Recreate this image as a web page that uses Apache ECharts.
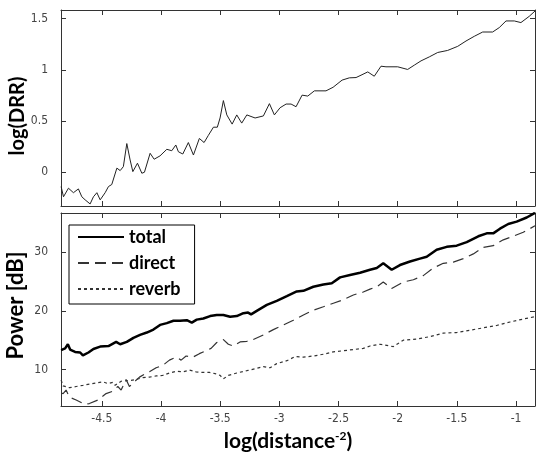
<!DOCTYPE html>
<html>
<head>
<meta charset="utf-8">
<script src="https://cdn.jsdelivr.net/npm/echarts@6/dist/echarts.min.js"></script>
<style>html,body{margin:0;padding:0;background:#fff}#c{width:536px;height:454px}</style>
</head>
<body>
<div id="c"></div>
<script>
// ---- data ----
const xTicks = [-4.5, -4, -3.5, -3, -2.5, -2, -1.5, -1];
const drrTicks = [0, 0.5, 1, 1.5];
const powTicks = [10, 20, 30];

const drrX = [-4.844,-4.824,-4.782,-4.740,-4.698,-4.669,-4.641,-4.599,-4.571,-4.542,-4.514,-4.472,-4.444,-4.416,-4.373,-4.345,-4.318,-4.289,-4.261,-4.238,-4.199,-4.162,-4.140,-4.092,-4.058,-4.008,-3.951,-3.909,-3.875,-3.853,-3.816,-3.769,-3.726,-3.676,-3.636,-3.600,-3.557,-3.524,-3.501,-3.473,-3.444,-3.399,-3.360,-3.318,-3.275,-3.205,-3.135,-3.084,-3.042,-2.994,-2.943,-2.901,-2.859,-2.808,-2.760,-2.704,-2.606,-2.546,-2.470,-2.409,-2.352,-2.310,-2.253,-2.198,-2.141,-2.099,-2.000,-1.916,-1.860,-1.803,-1.733,-1.662,-1.578,-1.493,-1.423,-1.353,-1.282,-1.198,-1.142,-1.085,-1.015,-0.959,-0.889,-0.840];
const drrY = [-0.14,-0.24,-0.156,-0.20,-0.163,-0.24,-0.27,-0.31,-0.24,-0.20,-0.27,-0.20,-0.14,-0.12,0.04,0.016,0.055,0.28,0.12,0.006,0.088,-0.01,0.0,0.185,0.127,0.16,0.224,0.21,0.266,0.20,0.178,0.29,0.168,0.33,0.29,0.36,0.44,0.44,0.53,0.70,0.56,0.47,0.56,0.48,0.56,0.53,0.55,0.67,0.56,0.63,0.666,0.666,0.64,0.753,0.744,0.795,0.795,0.83,0.90,0.922,0.925,0.948,0.98,0.938,1.036,1.03,1.03,1.004,1.046,1.088,1.127,1.17,1.19,1.23,1.282,1.328,1.37,1.37,1.413,1.478,1.478,1.462,1.523,1.575];

const totalX = [-4.844,-4.810,-4.787,-4.768,-4.726,-4.683,-4.660,-4.613,-4.571,-4.514,-4.444,-4.379,-4.345,-4.289,-4.233,-4.177,-4.120,-4.064,-4.008,-3.951,-3.895,-3.839,-3.782,-3.740,-3.698,-3.642,-3.585,-3.529,-3.473,-3.416,-3.360,-3.304,-3.264,-3.239,-3.191,-3.106,-3.022,-2.937,-2.853,-2.797,-2.713,-2.628,-2.557,-2.487,-2.403,-2.318,-2.234,-2.177,-2.122,-2.051,-1.981,-1.896,-1.812,-1.755,-1.671,-1.586,-1.502,-1.417,-1.319,-1.248,-1.193,-1.136,-1.066,-0.995,-0.910,-0.840];
const totalY = [13.3,13.6,14.3,13.4,13.0,12.9,12.4,12.9,13.5,13.9,14.0,14.7,14.3,14.7,15.4,15.9,16.3,16.8,17.6,17.9,18.3,18.3,18.4,18.0,18.5,18.7,19.1,19.3,19.3,19.0,19.1,19.6,19.7,19.4,20.0,21.0,21.7,22.5,23.3,23.4,24.1,24.5,24.7,25.7,26.1,26.5,27.0,27.3,28.1,27.0,27.8,28.4,28.9,29.2,30.4,30.9,31.1,31.7,32.7,33.2,33.2,34.0,34.8,35.2,35.9,36.7];

const directX = [-4.844,-4.827,-4.802,-4.774,-4.717,-4.647,-4.605,-4.534,-4.464,-4.407,-4.365,-4.337,-4.295,-4.267,-4.225,-4.182,-4.140,-4.098,-4.041,-3.985,-3.929,-3.872,-3.830,-3.788,-3.731,-3.676,-3.619,-3.577,-3.529,-3.473,-3.431,-3.389,-3.332,-3.275,-3.220,-3.135,-3.051,-2.966,-2.882,-2.797,-2.713,-2.628,-2.544,-2.459,-2.375,-2.291,-2.234,-2.177,-2.122,-2.051,-1.953,-1.868,-1.784,-1.699,-1.615,-1.530,-1.446,-1.361,-1.277,-1.193,-1.108,-1.024,-0.939,-0.883,-0.840];
const directY = [6.0,5.9,6.5,5.3,4.8,4.1,4.2,4.8,5.9,6.3,7.1,6.5,8.3,7.1,7.9,8.7,9.2,9.6,10.3,10.7,11.6,12.1,11.6,12.3,12.1,12.7,13.2,13.6,14.6,15.1,14.3,14.0,14.7,14.8,15.1,15.9,16.8,17.6,18.4,19.3,20.1,20.7,21.3,21.9,22.7,23.2,23.7,24.1,24.9,23.8,24.9,25.3,26.0,27.3,28.1,28.3,28.9,29.7,30.8,31.1,32.1,32.7,33.4,34.0,34.5];

const reverbX = [-4.844,-4.827,-4.774,-4.717,-4.660,-4.605,-4.548,-4.492,-4.449,-4.407,-4.388,-4.337,-4.267,-4.210,-4.154,-4.098,-4.041,-3.985,-3.929,-3.872,-3.816,-3.760,-3.704,-3.647,-3.591,-3.543,-3.501,-3.473,-3.431,-3.360,-3.275,-3.191,-3.135,-3.079,-3.022,-2.937,-2.867,-2.797,-2.713,-2.628,-2.544,-2.459,-2.375,-2.291,-2.234,-2.149,-2.037,-1.953,-1.840,-1.727,-1.615,-1.502,-1.389,-1.277,-1.164,-1.051,-0.939,-0.840];
const reverbY = [8.2,7.2,6.9,7.1,7.3,7.5,7.7,7.9,7.6,7.8,7.3,8.0,8.1,8.3,8.6,8.7,8.9,9.0,9.4,9.7,9.6,9.9,9.6,9.5,9.5,9.3,9.0,8.4,9.0,9.4,9.8,10.2,10.5,10.3,11.0,11.5,12.2,12.1,12.3,12.6,13.0,13.2,13.4,13.6,14.0,14.3,13.9,15.0,15.2,15.6,16.2,16.3,16.7,17.1,17.5,18.1,18.6,19.0];

const seriesNames = ['total', 'direct', 'reverb'];

// ---- chart ----
const pairs = (xs, ys) => xs.map((x, i) => [x, ys[i]]);
const XMIN = -4.845, XMAX = -0.84;
const tickFont = {fontFamily: '"Liberation Sans Narrow","DejaVu Sans Condensed",Arial,sans-serif', fontSize: 12, color: '#444'};
const titleFont = {fontFamily: 'Lato, "Open Sans", sans-serif', fontWeight: 'bold', color: '#000'};
const lineCol = '#333';

function xAx(grid, pos, labels, extra) {
  return Object.assign({
    type: 'value', gridIndex: grid, position: pos, min: XMIN, max: XMAX,
    axisLine: {show: true, onZero: false, lineStyle: {color: lineCol, width: 1}},
    axisTick: {show: true, inside: true, length: 5, customValues: xTicks, lineStyle: {color: lineCol}},
    axisLabel: labels ? Object.assign({show: true, customValues: xTicks, margin: 7}, tickFont) : {show: false},
    splitLine: {show: false}
  }, extra || {});
}
function yAx(grid, pos, min, max, ticks, labels, extra) {
  return Object.assign({
    type: 'value', gridIndex: grid, position: pos, min: min, max: max,
    axisLine: {show: true, onZero: false, lineStyle: {color: lineCol, width: 1}},
    axisTick: {show: true, inside: true, length: 5, customValues: ticks, lineStyle: {color: lineCol}},
    axisLabel: labels ? Object.assign({show: true, customValues: ticks, margin: 13}, tickFont) : {show: false},
    splitLine: {show: false}
  }, extra || {});
}

const chart = echarts.init(document.getElementById('c'), null, {renderer: 'canvas'});
chart.setOption({
  animation: false,
  backgroundColor: '#fff',
  grid: [
    {left: 61, top: 10, width: 474, height: 196, containLabel: false, outerBoundsMode: 'none'},
    {left: 61, top: 213, width: 474, height: 193, containLabel: false, outerBoundsMode: 'none'}
  ],
  xAxis: [
    xAx(0, 'bottom', false),
    xAx(0, 'top', false),
    xAx(1, 'bottom', true, {
      name: '{a|log(distance}{s|-2}{a|)}', nameLocation: 'middle', nameGap: 24, nameMoveOverlap: false,
      nameTextStyle: {padding: [0, 20, 0, 0], rich: {
        a: Object.assign({fontSize: 21}, titleFont),
        s: Object.assign({fontSize: 12, verticalAlign: 'top', padding: [0, 0, 10, 0]}, titleFont)
      }}
    }),
    xAx(1, 'top', false)
  ],
  yAxis: [
    yAx(0, 'left', -0.33, 1.585, drrTicks, true, {
      name: 'log(DRR)', nameLocation: 'middle', nameGap: 33, nameRotate: 90, nameMoveOverlap: false,
      nameTextStyle: Object.assign({fontSize: 20, padding: [0, 16, 0, 0]}, titleFont)
    }),
    yAx(0, 'right', -0.33, 1.585, drrTicks, false),
    yAx(1, 'left', 3.78, 36.67, powTicks, true, {
      name: 'Power [dB]', nameLocation: 'middle', nameGap: 34, nameRotate: 90, nameMoveOverlap: false,
      nameTextStyle: Object.assign({fontSize: 22, padding: [0, 0, 0, 8]}, titleFont)
    }),
    yAx(1, 'right', 3.78, 36.67, powTicks, false)
  ],
  legend: {
    data: seriesNames, orient: 'vertical', left: 69, top: 225,
    itemWidth: 46, itemHeight: 16, itemGap: 8,
    padding: [3, 14, 6, 8],
    borderColor: '#000', borderWidth: 1, backgroundColor: '#fff', borderRadius: 0,
    itemStyle: {opacity: 0},
    lineStyle: {opacity: 1},
    textStyle: Object.assign({fontSize: 18, lineHeight: 16}, titleFont)
  },
  series: [
    {type: 'line', name: 'DRR', xAxisIndex: 0, yAxisIndex: 0, data: pairs(drrX, drrY),
      symbol: 'none', lineStyle: {color: '#222', width: 1}, itemStyle: {color: '#222'}},
    {type: 'line', name: seriesNames[0], xAxisIndex: 2, yAxisIndex: 2, data: pairs(totalX, totalY),
      symbol: 'none', lineStyle: {color: '#000', width: 2.5}, itemStyle: {color: '#000'}},
    {type: 'line', name: seriesNames[1], xAxisIndex: 2, yAxisIndex: 2, data: pairs(directX, directY),
      symbol: 'none', lineStyle: {color: '#333', width: 1.2, type: [11, 6]}, itemStyle: {color: '#333'}},
    {type: 'line', name: seriesNames[2], xAxisIndex: 2, yAxisIndex: 2, data: pairs(reverbX, reverbY),
      symbol: 'none', lineStyle: {color: '#333', width: 1.2, type: [3, 3]}, itemStyle: {color: '#333'}}
  ]
});
</script>
</body>
</html>
